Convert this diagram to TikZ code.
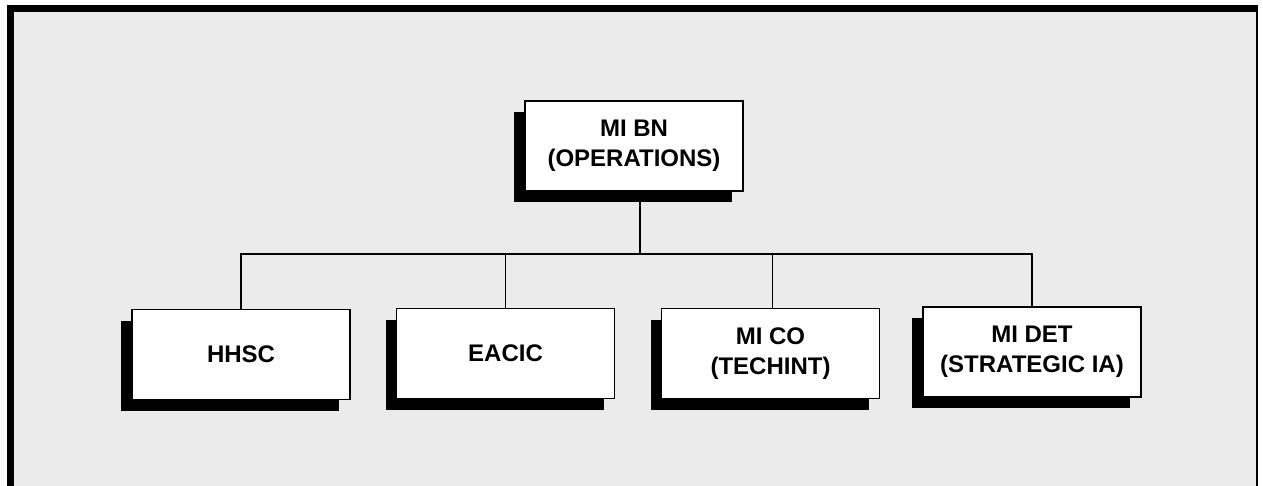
\documentclass[tikz,border=0pt]{standalone}
\usepackage{fontspec}
\setmainfont{Liberation Sans}
\usetikzlibrary{shadows}
\begin{document}
\begin{tikzpicture}[x=1pt,y=-1pt,
  unitbox/.style={rectangle, draw=black, line width=1.6pt, fill=white,
    minimum width=218pt, minimum height=90pt, inner sep=0pt, align=center,
    font=\fontsize{24}{30}\selectfont\bfseries,
    general shadow={fill=black, shadow xshift=-11pt, shadow yshift=-11pt}},
  link/.style={draw=black, line width=1.2pt}]
\useasboundingbox (0,0) rectangle (1263,486);
% frame
\fill[black!8] (10,9) rectangle (1257,486);
\draw[line width=7pt] (10,490) -- (10,9) -- (1258,9);
\draw[line width=2pt] (1257,9) -- (1257,486);
% nodes
\node[unitbox] (top) at (634,146) {MI BN\\(OPERATIONS)};
\node[unitbox] (hhsc) at (241,354.5) {HHSC};
\node[unitbox] (eacic) at (505.5,353.5) {EACIC};
\node[unitbox] (mico) at (770.5,353.5) {MI CO\\(TECHINT)};
\node[unitbox] (midet) at (1032,352) {MI DET\\(STRATEGIC IA)};
\coordinate (hub) at (640,254);
% connectors
\draw[link] ([xshift=6pt]top.south) -- (hub);
\draw[link] (hhsc.north) |- (hub) -| (midet.north);
\draw[link] (eacic.north) -- (eacic.north |- hub);
\draw[link] ([xshift=2pt]mico.north) -- ([xshift=2pt]mico.north |- hub);
\end{tikzpicture}
\end{document}
